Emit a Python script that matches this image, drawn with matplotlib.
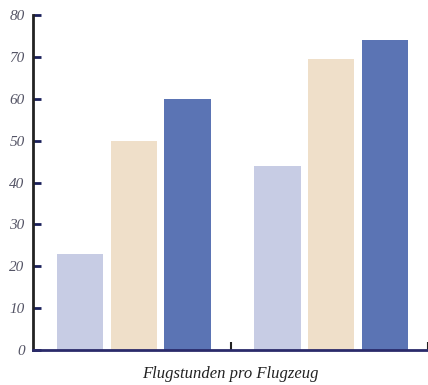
import matplotlib
matplotlib.use("Agg")
import matplotlib.pyplot as plt
import numpy as np

# data
groups = [0, 1]
series_a = [23, 44]
series_b = [50, 69.5]
series_c = [60, 74]
yticks = [0, 10, 20, 30, 40, 50, 60, 70, 80]
xlabel = "Flugstunden pro Flugzeug"

colors = ["#c7cce4", "#efdfc9", "#5b74b4"]

fig = plt.figure(figsize=(4.28, 3.85), dpi=100)
ax = fig.add_axes([33 / 428, 35 / 385, 395 / 428, 335 / 385])

x = np.array(groups)
w = 0.235
step = 0.272
for i, (vals, c) in enumerate(zip([series_a, series_b, series_c], colors)):
    ax.bar(x + 0.01 + (i - 1) * step, vals, width=w, color=c, edgecolor="none")

ax.set_xlim(-0.5, 1.5)
ax.set_ylim(0, 80)
ax.set_yticks(yticks)
ax.set_yticklabels([str(t) for t in yticks], fontfamily="Liberation Serif",
                   fontstyle="italic", fontsize=11, color="#555566")
ax.set_xticks([0.5, 1.5])
ax.set_xticklabels([])
ax.tick_params(axis="y", direction="in", length=6, width=2, color="#1a1f5a", pad=6)
ax.tick_params(axis="x", direction="in", length=6, width=1.5, color="#222222")

for s in ["top", "right"]:
    ax.spines[s].set_visible(False)
ax.spines["left"].set_linewidth(2)
ax.spines["left"].set_color("#222222")
ax.spines["bottom"].set_linewidth(2)
ax.spines["bottom"].set_color("#2a2a6a")

ax.set_xlabel(xlabel, fontfamily="Liberation Serif", fontstyle="italic",
              fontsize=12, color="#222222", labelpad=8)

fig.savefig("out.png", dpi=100)
